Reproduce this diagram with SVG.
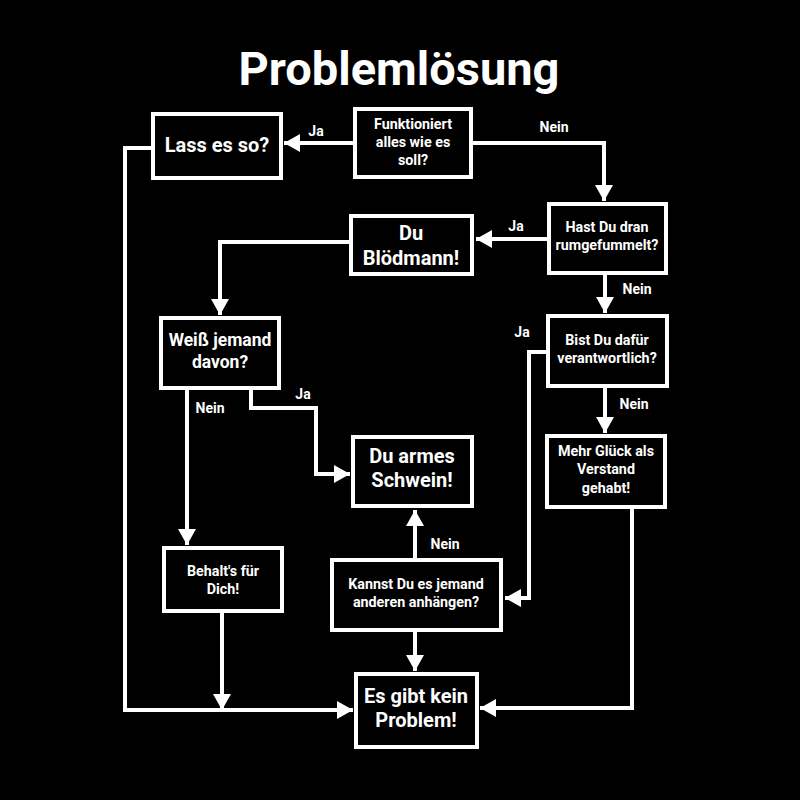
<svg xmlns="http://www.w3.org/2000/svg" width="800" height="800" viewBox="0 0 800 800">
<style>
.box{fill:#000;stroke:#fff;stroke-width:4}
.c{fill:none;stroke:#fff;stroke-width:4;stroke-linejoin:miter}
text{font-family:Roboto,"Liberation Sans",sans-serif;font-weight:700;fill:#fff;text-anchor:middle}
.t{font-size:47px}
.l{font-size:20px}
.s{font-size:14.3px}
.m{font-size:17.5px}
.lb{font-size:14px}
</style>
<defs>
<marker id="ah" markerUnits="userSpaceOnUse" markerWidth="18" markerHeight="18" refX="16" refY="9" orient="auto">
<path d="M0,0 L16,9 L0,18 Z" fill="#fff"/>
</marker>
</defs>
<rect width="800" height="800" fill="#000"/>
<text class="t" x="399" y="85">Problemlösung</text>

<g id="connectors">
<path class="c" d="M353,143 H284" marker-end="url(#ah)"/>
<path class="c" d="M473,143 H604 V201" marker-end="url(#ah)"/>
<path class="c" d="M548,239 H476" marker-end="url(#ah)"/>
<path class="c" d="M605,274 V313" marker-end="url(#ah)"/>
<path class="c" d="M605,387 V433" marker-end="url(#ah)"/>
<path class="c" d="M547,352 H529 V598 H505" marker-end="url(#ah)"/>
<path class="c" d="M350,242 H220 V315" marker-end="url(#ah)"/>
<path class="c" d="M187,389 V545" marker-end="url(#ah)"/>
<path class="c" d="M251,389 V408 H316 V474 H350" marker-end="url(#ah)"/>
<path class="c" d="M415,559 V510" marker-end="url(#ah)"/>
<path class="c" d="M415,631 V671" marker-end="url(#ah)"/>
<path class="c" d="M222,612 V710" marker-end="url(#ah)"/>
<path class="c" d="M153,148 H125 V710 H353" marker-end="url(#ah)"/>
<path class="c" d="M632,508 V708 H480" marker-end="url(#ah)"/>
<text class="lb" x="316" y="136">Ja</text>
<text class="lb" x="554" y="132">Nein</text>
<text class="lb" x="516" y="231">Ja</text>
<text class="lb" x="637" y="294">Nein</text>
<text class="lb" x="522" y="337">Ja</text>
<text class="lb" x="634" y="409">Nein</text>
<text class="lb" x="210" y="413">Nein</text>
<text class="lb" x="303" y="399">Ja</text>
<text class="lb" x="445" y="549">Nein</text>
</g>

<g id="lass">
<rect class="box" x="153" y="114" width="128" height="64"/>
<text class="l" x="217" y="152">Lass es so?</text>
</g>
<g id="funktioniert">
<rect class="box" x="355" y="109" width="116" height="68"/>
<text class="s" x="413" y="129">Funktioniert</text>
<text class="s" x="413" y="147">alles wie es</text>
<text class="s" x="413" y="165">soll?</text>
</g>
<g id="bloedmann">
<rect class="box" x="351" y="216" width="121" height="58"/>
<text class="l" x="411" y="240">Du</text>
<text class="l" x="411" y="265">Blödmann!</text>
</g>
<g id="hast">
<rect class="box" x="549" y="204" width="117" height="69"/>
<text class="s" x="607" y="232">Hast Du dran</text>
<text class="s" x="607" y="250">rumgefummelt?</text>
</g>
<g id="bist">
<rect class="box" x="548" y="316" width="119" height="70"/>
<text class="s" x="607" y="345">Bist Du dafür</text>
<text class="s" x="607" y="363">verantwortlich?</text>
</g>
<g id="mehr">
<rect class="box" x="547" y="436" width="118" height="71"/>
<text class="s" x="606" y="456">Mehr Glück als</text>
<text class="s" x="606" y="474">Verstand</text>
<text class="s" x="606" y="493">gehabt!</text>
</g>
<g id="weiss">
<rect class="box" x="161" y="318" width="118" height="70"/>
<text class="m" x="220" y="346">Weiß jemand</text>
<text class="m" x="220" y="368">davon?</text>
</g>
<g id="armes">
<rect class="box" x="353" y="437" width="119" height="69"/>
<text class="l" x="412" y="463">Du armes</text>
<text class="l" x="412" y="487">Schwein!</text>
</g>
<g id="behalt">
<rect class="box" x="164" y="548" width="118" height="63"/>
<text class="s" x="223" y="576">Behalt's für</text>
<text class="s" x="223" y="594">Dich!</text>
</g>
<g id="kannst">
<rect class="box" x="332" y="560" width="169" height="70"/>
<text class="s" x="416" y="589">Kannst Du es jemand</text>
<text class="s" x="416" y="607">anderen anhängen?</text>
</g>
<g id="esgibt">
<rect class="box" x="356" y="674" width="121" height="73"/>
<text class="l" x="416" y="703">Es gibt kein</text>
<text class="l" x="416" y="727">Problem!</text>
</g>
</svg>
